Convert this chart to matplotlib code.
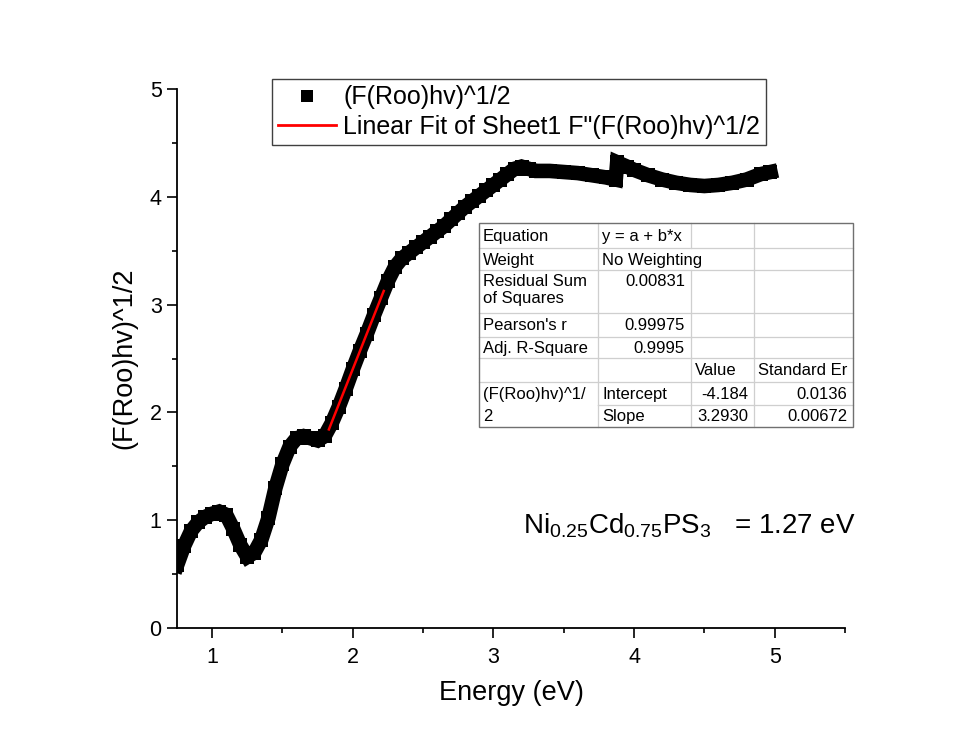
import matplotlib
matplotlib.use('Agg')
import matplotlib.pyplot as plt
from matplotlib.lines import Line2D
from matplotlib.patches import Rectangle

plt.rcParams['font.family'] = ['Liberation Sans', 'DejaVu Sans']
plt.rcParams['mathtext.fontset'] = 'custom'
plt.rcParams['mathtext.rm'] = 'Liberation Sans'
plt.rcParams['mathtext.it'] = 'Liberation Sans:italic'
plt.rcParams['mathtext.bf'] = 'Liberation Sans:bold'

# ---------------- data ----------------
energy = [0.75, 0.80, 0.85, 0.90, 0.95, 1.00, 1.05, 1.10, 1.15, 1.20, 1.25, 1.30,
          1.35, 1.40, 1.45, 1.50, 1.55, 1.60, 1.65, 1.70, 1.75, 1.80, 1.85, 1.90,
          1.95, 2.00, 2.05, 2.10, 2.15, 2.20, 2.25, 2.30, 2.35, 2.40, 2.45, 2.50,
          2.55, 2.60, 2.65, 2.70, 2.75, 2.80, 2.85, 2.90, 2.95, 3.00, 3.05, 3.10,
          3.15, 3.20, 3.25, 3.30, 3.40, 3.50, 3.60, 3.70, 3.80, 3.87, 3.88, 3.95,
          4.00, 4.10, 4.20, 4.30, 4.40, 4.50, 4.60, 4.70, 4.80, 4.90, 4.97]
kubelka = [0.58, 0.76, 0.90, 0.98, 1.03, 1.06, 1.08, 1.05, 0.92, 0.77, 0.66, 0.70,
           0.82, 1.02, 1.30, 1.52, 1.68, 1.76, 1.78, 1.76, 1.74, 1.78, 1.90, 2.05,
           2.22, 2.40, 2.57, 2.73, 2.90, 3.06, 3.22, 3.35, 3.43, 3.48, 3.53, 3.58,
           3.63, 3.68, 3.73, 3.79, 3.85, 3.91, 3.96, 4.01, 4.06, 4.11, 4.16, 4.21,
           4.26, 4.28, 4.26, 4.24, 4.24, 4.23, 4.22, 4.20, 4.18, 4.16, 4.32, 4.28,
           4.25, 4.20, 4.16, 4.13, 4.11, 4.10, 4.11, 4.13, 4.16, 4.21, 4.23]

fit_range = [1.83, 2.22]
fit_intercept = -4.184
fit_slope = 3.2930

x_ticks = [1, 2, 3, 4, 5]
y_ticks = [0, 1, 2, 3, 4, 5]

series_label = "(F(Roo)hv)^1/2"
fit_label = "Linear Fit of Sheet1 F\"(F(Roo)hv)^1/2"

table_col0 = ["Equation", "Weight", "Residual Sum\nof Squares", "Pearson's r",
              "Adj. R-Square", "", "(F(Roo)hv)^1/", "2"]
table_col1 = ["y = a + b*x", "No Weighting", "0.00831", "0.99975", "0.9995",
              "", "Intercept", "Slope"]
table_col2 = ["", "", "", "", "", "Value", "-4.184", "3.2930"]
table_col3 = ["", "", "", "", "", "Standard Er", "0.0136", "0.00672"]

annotation = r"Ni$_{0.25}$Cd$_{0.75}$PS$_{3}$   = 1.27 eV"

# ---------------- figure ----------------
W, H = 968, 747
fig = plt.figure(figsize=(W / 100, H / 100), dpi=100)
fig.patch.set_facecolor('white')


def fx(x):
    return x / W


def fy(y):
    return 1 - y / H


ax = fig.add_axes([fx(177), fy(628), (845 - 177) / W, (628 - 89) / H])
ax.plot(energy, kubelka, color='black', lw=10.5, marker='s', ms=10.5, mew=0,
        solid_joinstyle='miter', zorder=2)
fit_y = [fit_intercept + fit_slope * v for v in fit_range]
ax.plot(fit_range, fit_y, color='red', lw=1.8, zorder=3)

ax.set_xlim(0.75, 5.5)
ax.set_ylim(0, 5)
ax.set_xticks(x_ticks)
ax.set_yticks(y_ticks)
ax.set_xticks([1.5, 2.5, 3.5, 4.5, 5.5], minor=True)
ax.set_yticks([0.5, 1.5, 2.5, 3.5, 4.5], minor=True)
for s in ['top', 'right']:
    ax.spines[s].set_visible(False)
for s in ['left', 'bottom']:
    ax.spines[s].set_linewidth(1.3)
ax.tick_params(which='major', direction='out', length=7, width=1.2,
               labelsize=15.5)
ax.tick_params(which='minor', direction='out', length=3.5, width=1.2)
ax.tick_params(axis='x', which='major', pad=7)
ax.tick_params(axis='y', which='major', pad=4)
ax.set_xlabel("Energy (eV)", fontsize=19.5, labelpad=8)
ax.set_ylabel(series_label, fontsize=19.5, labelpad=9)

handles = [Line2D([], [], ls='none', marker='s', color='black', ms=9, mew=0),
           Line2D([], [], color='red', lw=2)]
leg = ax.legend(handles, [series_label, fit_label], loc='upper left',
                bbox_to_anchor=(fx(272), fy(79)), bbox_transform=fig.transFigure,
                fontsize=18, frameon=True, fancybox=False, edgecolor='#404040',
                borderpad=0.25, labelspacing=0.22, handlelength=2.3,
                handletextpad=0.3, borderaxespad=0, framealpha=1)
leg.get_frame().set_linewidth(1.0)

# ---------------- fit table ----------------
col_edges = [479, 598, 691, 754, 853]
row_edges = [223, 248, 270, 313, 337, 358, 382, 405, 427]

fig.add_artist(Rectangle((fx(col_edges[0]), fy(row_edges[-1])),
                         (col_edges[-1] - col_edges[0]) / W,
                         (row_edges[-1] - row_edges[0]) / H,
                         transform=fig.transFigure, facecolor='white',
                         edgecolor='none', zorder=5))
grid_c = '#cfcfcf'
for i, yy in enumerate(row_edges[1:-1], start=1):
    x0 = col_edges[0]
    if i == 7:
        x0 = col_edges[1]
    fig.add_artist(Line2D([fx(x0), fx(col_edges[-1])], [fy(yy), fy(yy)],
                          transform=fig.transFigure, color=grid_c, lw=0.9, zorder=6))
for j, xx in enumerate(col_edges[1:-1], start=1):
    for r in range(len(row_edges) - 1):
        if j == 2 and r == 1:
            continue
        fig.add_artist(Line2D([fx(xx), fx(xx)], [fy(row_edges[r]), fy(row_edges[r + 1])],
                              transform=fig.transFigure, color=grid_c, lw=0.9, zorder=6))
fig.add_artist(Rectangle((fx(col_edges[0]), fy(row_edges[-1])),
                         (col_edges[-1] - col_edges[0]) / W,
                         (row_edges[-1] - row_edges[0]) / H,
                         transform=fig.transFigure, facecolor='none',
                         edgecolor='#707070', lw=1.0, zorder=7))

cols = [table_col0, table_col1, table_col2, table_col3]


def numeric(s):
    return s.replace('.', '').replace('-', '').isdigit()


for c, col in enumerate(cols):
    for r, txt in enumerate(col):
        if not txt:
            continue
        top, bot = row_edges[r], row_edges[r + 1]
        if numeric(txt) and c != 0:
            x = col_edges[c + 1] - 6
            ha = 'right'
        else:
            x = col_edges[c] + 4
            ha = 'left'
        if r == 2:
            y = top + 4
            va = 'top'
        else:
            y = (top + bot) / 2 + 1
            va = 'center'
        fig.text(fx(x), fy(y), txt, ha=ha, va=va, fontsize=12, zorder=8,
                 linespacing=1.2)

fig.text(fx(523), fy(533), annotation, fontsize=20, ha='left', va='baseline')

fig.savefig('out.png', dpi=100, facecolor='white')
